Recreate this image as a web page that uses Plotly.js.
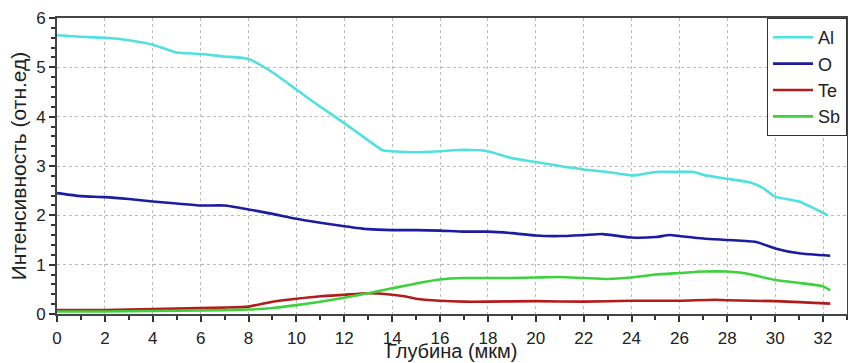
<!DOCTYPE html>
<html><head><meta charset="utf-8">
<script src="https://cdn.plot.ly/plotly-3.0.1.min.js"></script>
<style>html,body{margin:0;padding:0;background:#fff;}#c{width:848px;height:363px;}</style>
</head><body><div id="c"></div>
<script>
const alX = [0,1,2,3,4,4.6,5,6,7,8,9,10,11,12,13,13.6,14,15,16,17,18,19,20,21,22,23,24,24.3,25,26,26.6,27,28,29,29.5,30,31,32.2];
const alY = [5.65,5.62,5.6,5.55,5.46,5.36,5.3,5.27,5.22,5.17,4.9,4.55,4.2,3.87,3.52,3.32,3.3,3.28,3.3,3.33,3.3,3.16,3.08,3.0,2.93,2.88,2.81,2.82,2.88,2.88,2.88,2.82,2.74,2.66,2.55,2.38,2.28,2.0];
const oX = [0,1,2,3,4,5,6,7,8,9,10,11,12,13,14,15,16,17,18,19,20,21,22,22.8,24,25,25.6,26,27,28,29.2,30,31,32.3];
const oY = [2.45,2.39,2.37,2.33,2.28,2.24,2.2,2.2,2.12,2.03,1.93,1.85,1.78,1.72,1.7,1.7,1.69,1.67,1.67,1.64,1.59,1.58,1.6,1.62,1.55,1.56,1.6,1.58,1.53,1.5,1.46,1.33,1.23,1.18];
const teX = [0,2,4,6,7,8,9,10,11,12,13,14,14.5,15,16,17,18,20,22,24,26,27.5,28,30,31,32.3];
const teY = [0.08,0.08,0.1,0.12,0.13,0.15,0.25,0.31,0.36,0.39,0.42,0.39,0.36,0.31,0.27,0.25,0.25,0.26,0.25,0.27,0.27,0.29,0.28,0.26,0.24,0.21];
const sbX = [0,2,4,6,8,9,10,11,12,13,14,15,16,17,18,19,20,21,22,23,24,25,26,27,28,28.5,29,30,31,32,32.3];
const sbY = [0.05,0.05,0.06,0.07,0.09,0.12,0.18,0.25,0.33,0.42,0.52,0.62,0.7,0.73,0.73,0.73,0.74,0.75,0.73,0.71,0.74,0.8,0.83,0.86,0.86,0.84,0.8,0.69,0.63,0.56,0.48];
const names = ['Al','O','Te','Sb'];
const colors = ['#4fe0e0','#1c1ca0','#b41c1c','#3cd23c'];
const xTitle = 'Глубина (мкм)';
const yTitle = 'Интенсивность (отн.ед)';
const xs=[alX,oX,teX,sbX], ys=[alY,oY,teY,sbY];
const traces = names.map((n,i)=>({x:xs[i],y:ys[i],name:n,type:'scatter',mode:'lines',
  line:{color:colors[i],width:2.6,shape:'spline',smoothing:0.5}}));
const font = {family:'Liberation Sans, Arial, sans-serif', color:'#222'};
const layout = {
  width:848,height:363,margin:{l:57,r:1,t:18,b:49},
  paper_bgcolor:'#fff',plot_bgcolor:'#fff',
  font:Object.assign({size:17},font),
  showlegend:true,
  legend:{x:1,xanchor:'right',y:1,yanchor:'top',bordercolor:'#333',borderwidth:1,bgcolor:'#fff',
    font:Object.assign({size:18},font),tracegroupgap:0,itemwidth:40},
  xaxis:{range:[0,33],dtick:2,tick0:0,ticks:'outside',ticklen:6,tickwidth:2,tickcolor:'#333',
    showline:true,linecolor:'#444',linewidth:2,mirror:true,ticklabelstandoff:2,
    showgrid:true,gridcolor:'#bbb',griddash:'dot',gridwidth:1,zeroline:false,
    minor:{dtick:1,ticks:'outside',ticklen:4,tickcolor:'#333',showgrid:false},
    tickfont:Object.assign({size:17},font)},
  yaxis:{range:[0,6],dtick:1,tick0:0,ticks:'outside',ticklen:6,tickwidth:2,tickcolor:'#333',
    showline:true,linecolor:'#444',linewidth:2,mirror:true,
    showgrid:true,gridcolor:'#bbb',griddash:'dot',gridwidth:1,zeroline:false,
    minor:{dtick:0.2,ticks:'outside',ticklen:4,tickcolor:'#333',showgrid:false},
    tickfont:Object.assign({size:17},font),
    title:{text:yTitle,font:Object.assign({size:21},font),standoff:4}},
  annotations:[{text:xTitle,xref:'paper',yref:'paper',x:0.5,y:0,xanchor:'center',yanchor:'middle',
    yshift:-37,showarrow:false,font:Object.assign({size:20},font)}]
};
Plotly.newPlot('c',traces,layout,{displayModeBar:false,staticPlot:true});
</script></body></html>
